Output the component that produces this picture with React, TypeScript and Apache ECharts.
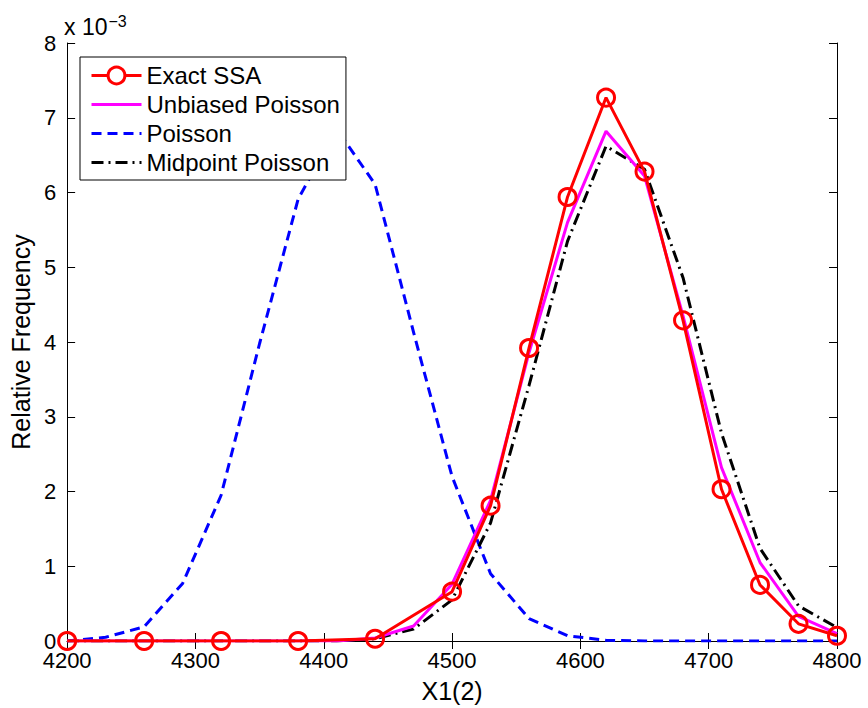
import React, { useEffect, useRef } from "react";
import * as echarts from "echarts";

// x positions of histogram bins (X1(2))
const binsX = [4200, 4230, 4260, 4290, 4320, 4350, 4380, 4410, 4440, 4470, 4500, 4530, 4560, 4590, 4620, 4650, 4680, 4710, 4740, 4770, 4800];

// Exact SSA samples (x, relative frequency in units of 1e-3)
const ssaX = [4200, 4260, 4320, 4380, 4440, 4500, 4530, 4560, 4590, 4620, 4650, 4680, 4710, 4740, 4770, 4800];
const ssaY = [0, 0, 0, 0, 0.03, 0.66, 1.81, 3.92, 5.94, 7.27, 6.28, 4.29, 2.03, 0.75, 0.23, 0.07];

// Values on binsX, units of 1e-3
const unbiasedPoisson = [0, 0, 0, 0, 0, 0, 0, 0, 0.04, 0.2, 0.76, 1.88, 3.86, 5.6, 6.82, 6.22, 4.35, 2.32, 1.05, 0.33, 0.1];
const poisson = [0, 0.05, 0.19, 0.77, 1.95, 3.98, 5.91, 6.85, 6.11, 4.13, 2.2, 0.9, 0.3, 0.07, 0.01, 0, 0, 0, 0, 0, 0];
const midpointPoisson = [0, 0, 0, 0, 0, 0, 0, 0, 0.03, 0.16, 0.55, 1.58, 3.42, 5.35, 6.62, 6.31, 4.86, 2.78, 1.24, 0.47, 0.18];

const xTicks = { min: 4200, max: 4800, interval: 100 };
const yTicks = { min: 0, max: 8, interval: 1 };

const FONT = "'Liberation Sans', Arial, Helvetica, sans-serif";

export default function App() {
  const ref = useRef<HTMLDivElement>(null);
  useEffect(() => {
    if (!ref.current) return;
    const chart = echarts.init(ref.current, null, { renderer: "svg" });
    const pair = (xs: number[], ys: number[]) => xs.map((x, i) => [x, ys[i]]);
    const axisLine = { show: true, lineStyle: { color: "#000", width: 1 } };
    const tick = { show: true, inside: true, length: 8, lineStyle: { color: "#000", width: 1 } };
    const hiddenMarker = { opacity: 0, color: "rgba(0,0,0,0)", borderWidth: 0 };
    chart.setOption({
      animation: false,
      backgroundColor: "#fff",
      textStyle: { fontFamily: FONT },
      grid: { left: 63, right: 31, top: 43, bottom: 58, containLabel: false },
      xAxis: [
        {
          type: "value",
          ...xTicks,
          position: "bottom",
          axisLine,
          axisTick: tick,
          splitLine: { show: false },
          axisLabel: { color: "#000", fontSize: 22, fontFamily: FONT, margin: 8, formatter: (v: number) => String(v) },
          name: "X1(2)",
          nameLocation: "middle",
          nameGap: 37,
          nameTextStyle: { color: "#000", fontSize: 25, fontFamily: FONT },
        },
        {
          type: "value",
          ...xTicks,
          position: "top",
          axisLine,
          axisTick: tick,
          splitLine: { show: false },
          axisLabel: { show: false },
        },
      ],
      yAxis: [
        {
          type: "value",
          ...yTicks,
          position: "left",
          axisLine,
          axisTick: tick,
          splitLine: { show: false },
          axisLabel: { color: "#000", fontSize: 22, fontFamily: FONT, margin: 11 },
          name: "Relative Frequency",
          nameLocation: "middle",
          nameGap: 31,
          nameRotate: 90,
          nameTextStyle: { color: "#000", fontSize: 25, fontFamily: FONT },
        },
        {
          type: "value",
          ...yTicks,
          position: "right",
          axisLine,
          axisTick: tick,
          splitLine: { show: false },
          axisLabel: { show: false },
        },
      ],
      legend: {
        orient: "vertical",
        left: 80,
        top: 57,
        padding: [4, 6, 3, 10],
        itemGap: 0,
        itemWidth: 50,
        itemHeight: 21,
        borderColor: "#000",
        borderWidth: 1,
        borderRadius: 0,
        backgroundColor: "#fff",
        lineStyle: { width: 3 },
        textStyle: { color: "#000", fontSize: 24, fontFamily: FONT, lineHeight: 29 },
        data: [
          { name: "Exact SSA", itemStyle: { color: "#fff", borderColor: "#ff0000", borderWidth: 3 }, lineStyle: { width: 3 } },
          { name: "Unbiased Poisson", itemStyle: hiddenMarker, lineStyle: { width: 3 } },
          { name: "Poisson", itemStyle: hiddenMarker, lineStyle: { width: 3 } },
          { name: "Midpoint Poisson", itemStyle: hiddenMarker, lineStyle: { width: 3 } },
        ],
      },
      graphic: [
        {
          type: "text",
          left: 64,
          top: 13,
          style: {
            text: "x 10{s|−3}",
            fill: "#000",
            font: `23px ${FONT}`,
            rich: { s: { fontSize: 16, fontFamily: FONT, verticalAlign: "top", padding: [0, 0, 12, 1], fill: "#000" } },
          },
        },
      ],
      series: [
        {
          name: "Exact SSA",
          type: "line",
          z: 5,
          data: pair(ssaX, ssaY),
          symbol: "circle",
          symbolSize: 17,
          itemStyle: { color: "rgba(255,255,255,0)", borderColor: "#ff0000", borderWidth: 3 },
          lineStyle: { color: "#ff0000", width: 3 },
        },
        {
          name: "Unbiased Poisson",
          type: "line",
          z: 4,
          data: pair(binsX, unbiasedPoisson),
          symbol: "none",
          lineStyle: { color: "#ff00ff", width: 3 },
          itemStyle: { color: "#ff00ff" },
        },
        {
          name: "Poisson",
          type: "line",
          z: 3,
          data: pair(binsX, poisson),
          symbol: "none",
          lineStyle: { color: "#0000ff", width: 3, type: [10, 6] },
          itemStyle: { color: "#0000ff" },
        },
        {
          name: "Midpoint Poisson",
          type: "line",
          z: 3,
          data: pair(binsX, midpointPoisson),
          symbol: "none",
          lineStyle: { color: "#000", width: 3, type: [12, 5, 2, 5] },
          itemStyle: { color: "#000" },
        },
      ],
    });
    return () => chart.dispose();
  }, []);
  return <div ref={ref} style={{ width: 868, height: 708, position: "absolute", left: 0, top: 0 }} />;
}
